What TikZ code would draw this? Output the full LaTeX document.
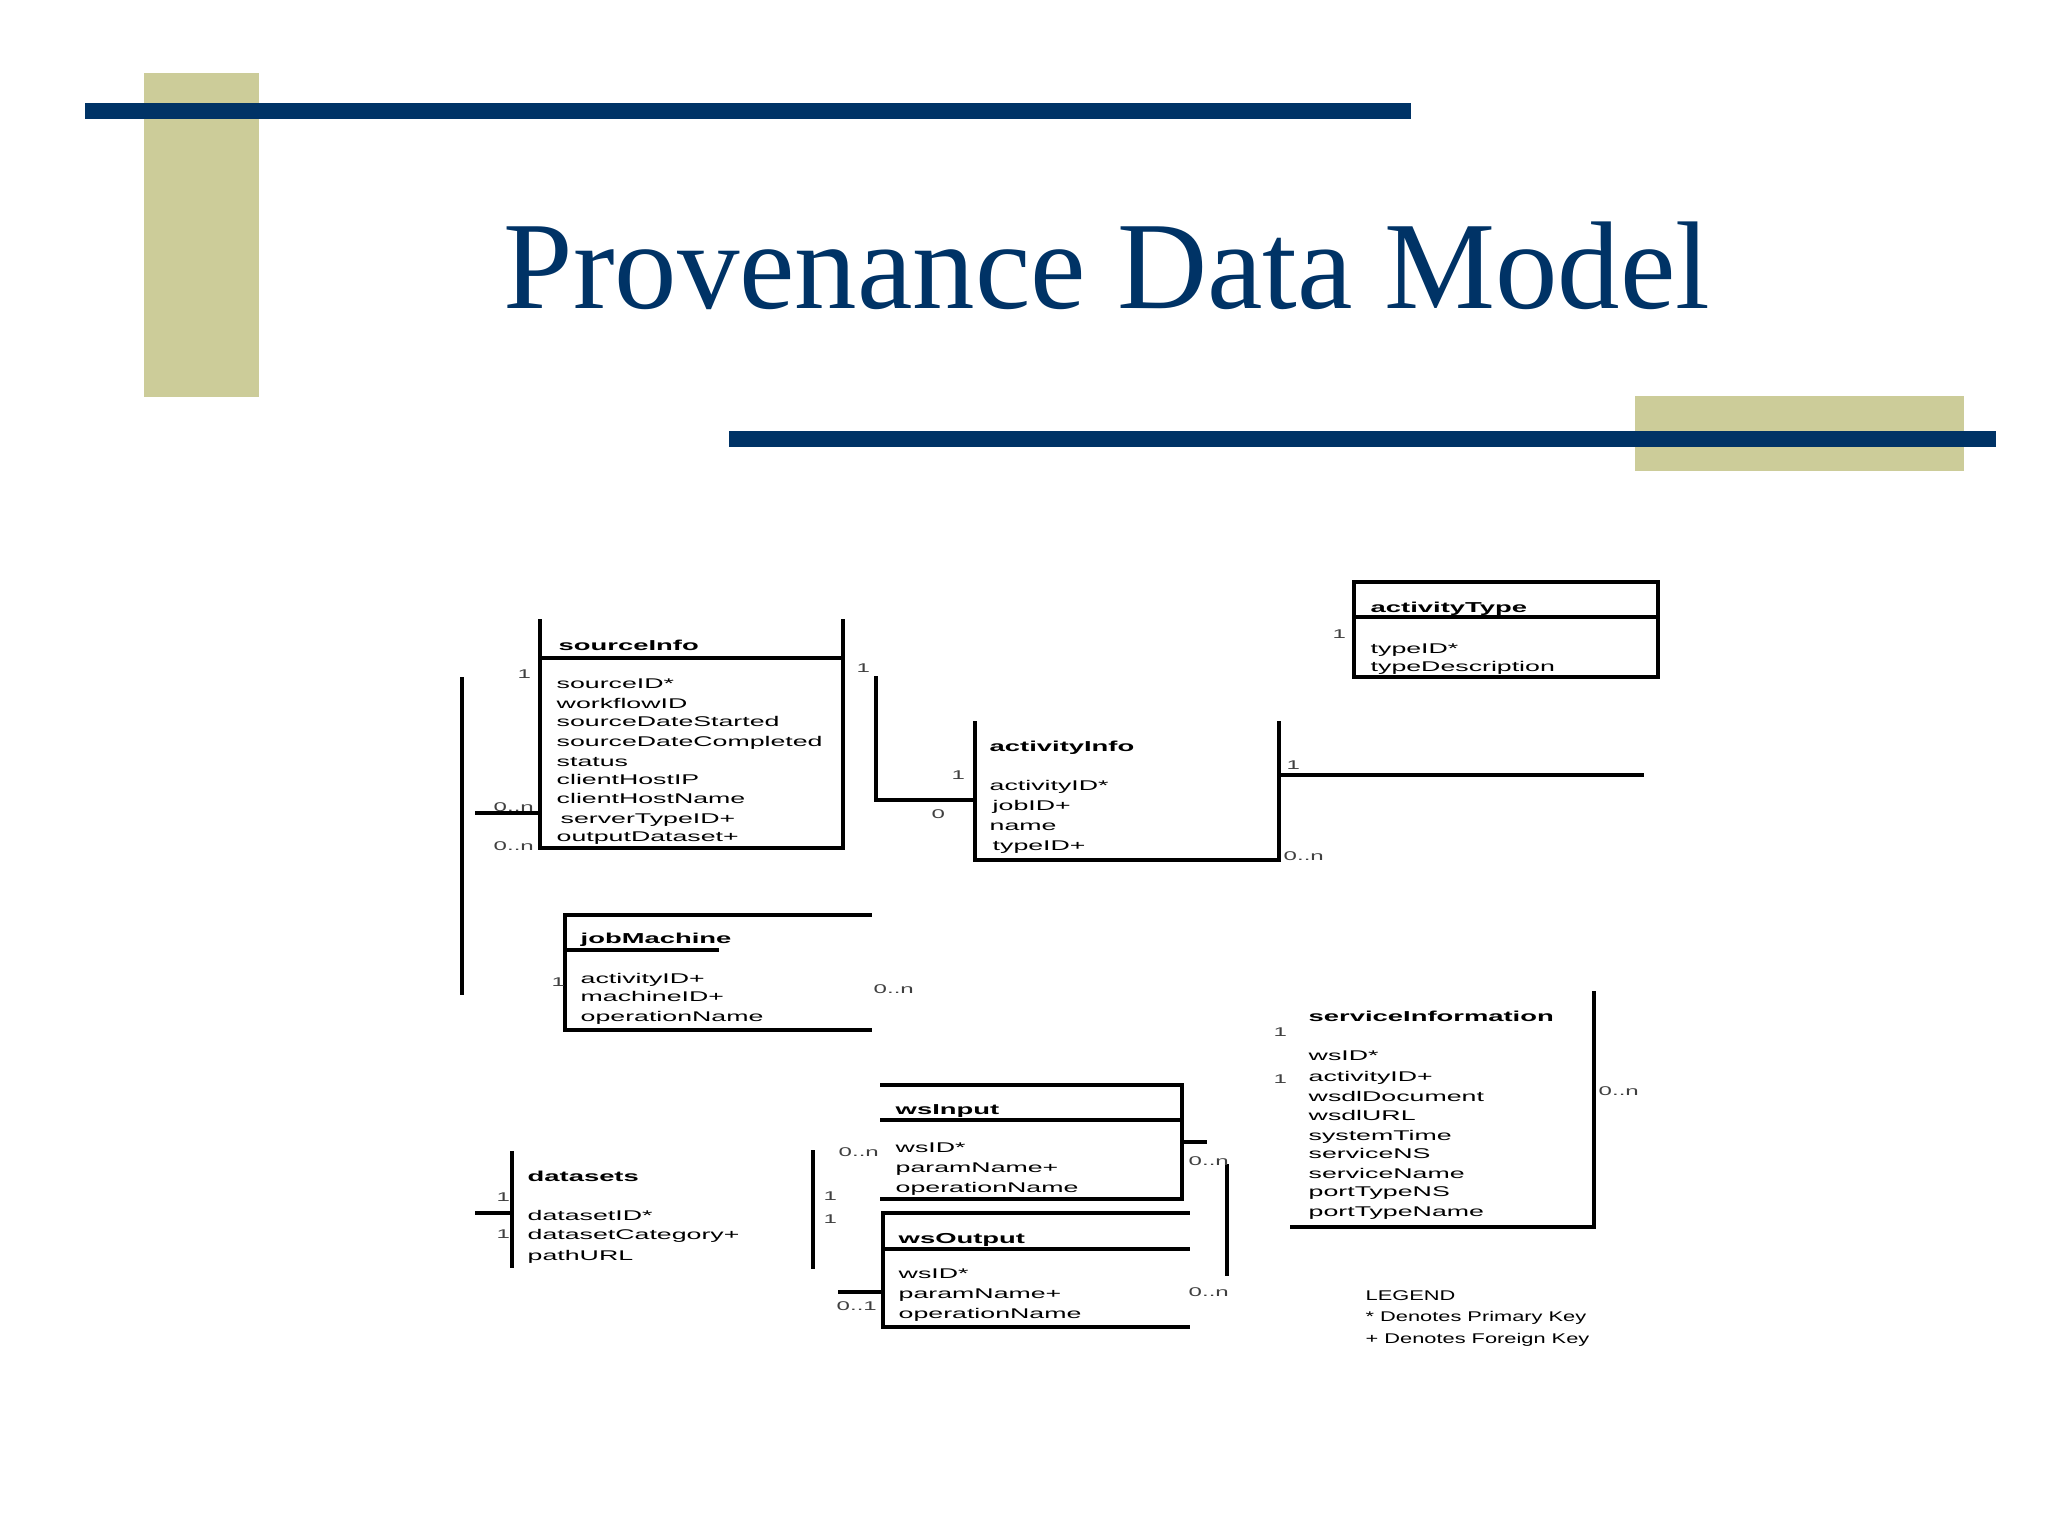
\documentclass[tikz,border=0pt]{standalone}
\usepackage{fontspec}
\setmainfont{Liberation Serif}
\newfontfamily\erfont[FakeStretch=1.9]{Liberation Sans}
\newfontfamily\legfont[FakeStretch=1.55]{Liberation Sans}
\definecolor{navy}{RGB}{0,51,102}
\definecolor{khaki}{RGB}{204,204,153}
\tikzset{
  erline/.style={line width=0.95pt, line cap=rect, black},
  hdr/.style={anchor=mid west, inner sep=0pt, font=\erfont\fontsize{4.1}{5}\selectfont\bfseries},
  attr/.style={anchor=mid west, inner sep=0pt, font=\erfont\fontsize{4}{5}\selectfont},
  card/.style={anchor=mid west, inner sep=0pt, font=\erfont\fontsize{3.6}{4}\selectfont, text=black!75},
  leg/.style={anchor=mid west, inner sep=0pt, font=\legfont\fontsize{4}{5}\selectfont},
  band/.style={fill=navy, draw=none},
  block/.style={fill=khaki, draw=none},
}
\begin{document}
\begin{tikzpicture}[x=0.01cm,y=-0.01cm]
\useasboundingbox (0,0) rectangle (2048,1536);
\fill[white] (0,0) rectangle (2048,1536);
% decorations
\fill[block] (144,73) rectangle (259,397);
\fill[block] (1635,396) rectangle (1964,471);
\fill[band] (85,103) rectangle (1411,119);
\fill[band] (729,431) rectangle (1996,447);
\node (title) [anchor=base west, inner sep=0pt, text=navy, font=\fontsize{35.5}{40}\selectfont] at (503,308) {Provenance Data Model};

% ---------- sourceInfo
\coordinate (siTL) at (540,621); \coordinate (siTR) at (843,621);
\coordinate (siBL) at (540,848); \coordinate (siBR) at (843,848);
\draw[erline] (siTL) -- (siBL) -- (siBR) -- (siTR);
\draw[erline] (540,658) -- (843,658);
\node (siH) [hdr] at (558,642) {sourceInfo};
\node (si1) [attr] at (556,680) {sourceID*};
\node (si2) [attr] at (556,700) {workflowID};
\node (si3) [attr] at (556,718) {sourceDateStarted};
\node (si4) [attr] at (556,738) {sourceDateCompleted};
\node (si5) [attr] at (556,758) {status};
\node (si6) [attr] at (556,776) {clientHostIP};
\node (si7) [attr] at (556,795) {clientHostName};
\node (si8) [attr] at (560,815) {serverTypeID+};
\node (si9) [attr] at (556,833) {outputDataset+};

% left outer line and its connector
\coordinate (lvT) at (462,679); \coordinate (lvB) at (462,993);
\draw[erline] (lvT) -- (lvB);
\coordinate (c1a) at (477,813); \coordinate (c1b) at (540,813);
\draw[erline] (c1a) -- (c1b);
\node (k1) [card] at (517,670) {1};
\node (k2) [card] at (493,803) {0..n};
\node (k3) [card] at (493,842) {0..n};

% ---------- activityInfo
\coordinate (aiTL) at (975,723); \coordinate (aiTR) at (1279,723);
\draw[erline] (aiTL) -- (975,860) -- (1279,860) -- (aiTR);
\node (aiH) [hdr] at (989,743) {activityInfo};
\node (ai1) [attr] at (989,782) {activityID*};
\node (ai2) [attr] at (992,802) {jobID+};
\node (ai3) [attr] at (989,822) {name};
\node (ai4) [attr] at (992,842) {typeID+};
% sourceInfo -> activityInfo
\coordinate (c2a) at (876,678); \coordinate (c2b) at (876,800); \coordinate (c2c) at (975,800);
\draw[erline] (c2a) -- (c2b) -- (c2c);
\node (k4) [card] at (856,664) {1};
\node (k5) [card] at (951,771) {1};
\node (k6) [card] at (931,810) {0};
% activityInfo right connector
\coordinate (c3a) at (1279,775); \coordinate (c3b) at (1642,775);
\draw[erline] (c3a) -- (c3b);
\node (k7) [card] at (1286,761) {1};
\node (k8) [card] at (1283,852) {0..n};

% ---------- activityType
\draw[erline] (1354,582) rectangle (1658,677);
\draw[erline] (1354,617) -- (1658,617);
\node (atH) [hdr] at (1370,604) {activityType};
\node (at1) [attr] at (1370,645) {typeID*};
\node (at2) [attr] at (1370,663) {typeDescription};
\node (k9) [card] at (1332,630) {1};

% ---------- jobMachine
\draw[erline] (870,915) -- (565,915) -- (565,1030) -- (870,1030);
\draw[erline] (565,950) -- (717,950);
\node (jmH) [hdr] at (580,935) {jobMachine};
\node (jm1) [attr] at (580,975) {activityID+};
\node (jm2) [attr] at (580,993) {machineID+};
\node (jm3) [attr] at (580,1013) {operationName};
\node (k10) [card] at (551,978) {1};
\node (k11) [card] at (873,985) {0..n};

% ---------- serviceInformation
\draw[erline] (1594,993) -- (1594,1227) -- (1292,1227);
\node (svH) [hdr] at (1308,1013) {serviceInformation};
\node (sv1) [attr] at (1308,1052) {wsID*};
\node (sv2) [attr] at (1308,1073) {activityID+};
\node (sv3) [attr] at (1308,1093) {wsdlDocument};
\node (sv4) [attr] at (1308,1112) {wsdlURL};
\node (sv5) [attr] at (1308,1132) {systemTime};
\node (sv6) [attr] at (1308,1150) {serviceNS};
\node (sv7) [attr] at (1308,1170) {serviceName};
\node (sv8) [attr] at (1308,1188) {portTypeNS};
\node (sv9) [attr] at (1308,1208) {portTypeName};
\node (k12) [card] at (1273,1028) {1};
\node (k13) [card] at (1273,1075) {1};
\node (k14) [card] at (1598,1087) {0..n};

% ---------- wsInput
\draw[erline] (882,1085) -- (1182,1085) -- (1182,1199) -- (882,1199);
\draw[erline] (882,1120) -- (1182,1120);
\node (wiH) [hdr] at (895,1106) {wsInput};
\node (wi1) [attr] at (895,1144) {wsID*};
\node (wi2) [attr] at (895,1164) {paramName+};
\node (wi3) [attr] at (895,1184) {operationName};
\coordinate (c4a) at (1182,1142); \coordinate (c4b) at (1205,1142);
\draw[erline] (c4a) -- (c4b);
\coordinate (c5a) at (1227,1166); \coordinate (c5b) at (1227,1274);
\draw[erline] (c5a) -- (c5b);
\node (k15) [card] at (1188,1157) {0..n};
\node (k16) [card] at (1188,1288) {0..n};

% ---------- wsOutput
\draw[erline] (1188,1213) -- (883,1213) -- (883,1327) -- (1188,1327);
\draw[erline] (883,1249) -- (1188,1249);
\node (woH) [hdr] at (898,1235) {wsOutput};
\node (wo1) [attr] at (898,1270) {wsID*};
\node (wo2) [attr] at (898,1290) {paramName+};
\node (wo3) [attr] at (898,1310) {operationName};
\coordinate (c6a) at (840,1292); \coordinate (c6b) at (883,1292);
\draw[erline] (c6a) -- (c6b);
\node (k17) [card] at (836,1302) {0..1};

% left line between wsInput and wsOutput
\coordinate (c7a) at (813,1152); \coordinate (c7b) at (813,1267);
\draw[erline] (c7a) -- (c7b);
\node (k18) [card] at (838,1148) {0..n};
\node (k19) [card] at (823,1192) {1};
\node (k20) [card] at (823,1215) {1};

% ---------- datasets
\coordinate (dsT) at (512,1153); \coordinate (dsB) at (512,1266);
\draw[erline] (dsT) -- (dsB);
\coordinate (c8a) at (477,1213); \coordinate (c8b) at (512,1213);
\draw[erline] (c8a) -- (c8b);
\node (dsH) [hdr] at (527,1173) {datasets};
\node (ds1) [attr] at (527,1212) {datasetID*};
\node (ds2) [attr] at (527,1231) {datasetCategory+};
\node (ds3) [attr] at (527,1252) {pathURL};
\node (k21) [card] at (496,1193) {1};
\node (k22) [card] at (496,1230) {1};

% ---------- legend
\node (lg0) [leg] at (1365,1292) {LEGEND};
\node (lg1) [leg] at (1365,1313) {* Denotes Primary Key};
\node (lg2) [leg] at (1365,1335) {+ Denotes Foreign Key};
\end{tikzpicture}
\end{document}
